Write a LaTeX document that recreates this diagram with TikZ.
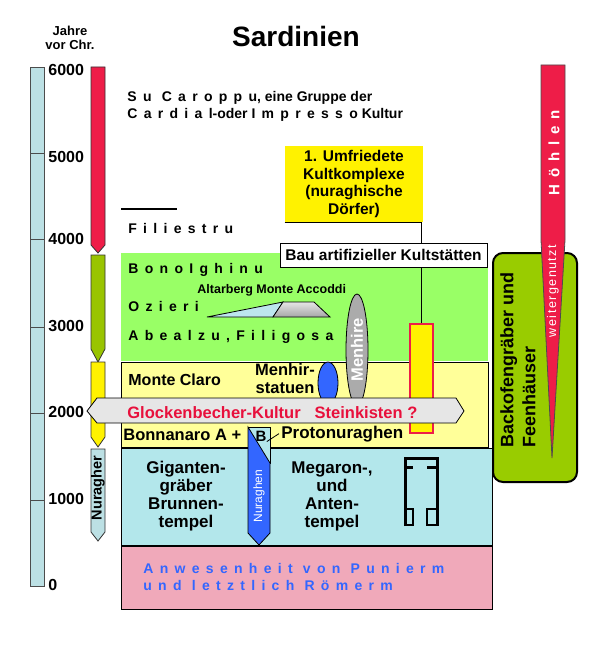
\documentclass[tikz,border=0pt]{standalone}
\usepackage{fontspec}
\setmainfont{Liberation Sans}
\newfontface\spacedfont[LetterSpace=45]{Liberation Sans Bold}
\newfontface\widefont[LetterSpace=12]{Liberation Sans}
\definecolor{hoehlered}{HTML}{EE1D48}
\definecolor{ozierigreen}{HTML}{99C400}
\definecolor{scaleblue}{HTML}{BCE0E4}
\definecolor{greenbox}{HTML}{99FF66}
\definecolor{paleyellow}{HTML}{FFFF99}
\definecolor{palecyan}{HTML}{B3E7EB}
\definecolor{palepink}{HTML}{F0A9BA}
\definecolor{backofengreen}{HTML}{99CC00}
\definecolor{nuraghenblue}{HTML}{3366FF}
\definecolor{menhirgray}{HTML}{ABABAB}
\definecolor{bannergray}{HTML}{E6E6E6}
\definecolor{rampblue}{HTML}{BDE6EE}
\definecolor{glockenred}{HTML}{E8103C}
\begin{document}
\begin{tikzpicture}
[x=1pt,y=-1pt,line width=0.8pt,
  lbl/.style 2 args={inner sep=0pt,font=\fontsize{#1}{#2}\selectfont\bfseries},%
  spaced/.style={inner sep=0pt,font=\fontsize{#1}{#1}\selectfont\spacedfont},
  spaced/.default=14,
  colarrow/.style={draw=black!80},
  plan/.style={line width=3pt}]
\useasboundingbox (0,0) rectangle (600,650);
%% year scale
\foreach \top/\bot in {67/153,153/239,239/327,327/413,413/500,500/586} {
  \draw[draw=black!70,fill=scaleblue] (30,\top) rectangle (44,\bot);
}
\foreach \yr/\yy in {6000/70,5000/157,4000/239,3000/326,2000/412,1000/499,0/585} {
  \node (y\yr) at (48,\yy) [lbl={16}{16},anchor=west] {\yr};
}
%% period columns
\foreach \top/\bot/\tip/\col in {67/253/8/hoehlered,255/362/13/ozierigreen,362/447/10/yellow,449/541/9/scaleblue} {
  \draw[colarrow,fill=\col] (91,\top) -- (105,\top) -- (105,\bot-\tip) -- (98,\bot) -- (91,\bot-\tip) -- cycle;
}
\node (nuragher) at (98,488) [lbl={14.5}{14.5},rotate=90] {Nuragher};
%% headings
\node (title) at (296,36) [lbl={28}{28}] {Sardinien};
\node (jahre) at (70,38) [lbl={13}{14.5},align=center] {Jahre\\vor Chr.};
\node (caroppu) at (127,102) [lbl={14}{14},anchor=base west] {{\spacedfont Su Caroppu}, eine Gruppe der};
\node (cardial) at (127,118) [lbl={14}{14},anchor=base west] {{\spacedfont Cardial}-oder {\spacedfont Impresso} Kultur};
\draw[line width=2pt] (121,209) -- (177,209);
\node (filiestru) at (128,233) [spaced,anchor=base west] {Filiestru};
%% period areas
\foreach \top/\bot/\right/\col/\edge in {253/360/487/greenbox/greenbox,362/447/488/paleyellow/black,448/545/492/palecyan/black,546/609/492/palepink/black} {
  \draw[draw=\edge,fill=\col] (121,\top) rectangle (\right,\bot);
}
%% cult sites
\node (umfr) at (354,184) [fill=yellow,minimum width=138pt,minimum height=76pt,align=center,lbl={15.5}{17.5}] {1. Umfriedete\\Kultkomplexe\\(nuraghische\\Dörfer)};
\node (bau) at (383.5,255) [draw,fill=white,minimum width=207pt,minimum height=24pt,lbl={15.5}{15.5}] {Bau artifizieller Kultstätten};
\node (kultbar) at (421.5,378.5) [draw=hoehlered,fill=yellow,line width=2pt,minimum width=23pt,minimum height=109pt] {};
\draw (umfr.south west) -- (umfr.south -| kultbar) -- (bau.north -| kultbar);
\draw (bau.south -| kultbar) -- (kultbar.north);
%% Ozieri area
\node (bono) at (128,273) [spaced,anchor=base west] {BonoIghinu};
\node (ozieri) at (128,311) [spaced,anchor=base west] {Ozieri};
\node (abealzu) at (128,340) [spaced,anchor=base west] {Abealzu,Filigosa};
\node (altar) at (197,293) [lbl={12.5}{12.5},anchor=base west] {Altarberg Monte Accoddi};
\draw[fill=rampblue] (207,317) -- (283,302) -- (273,317) -- cycle;
\draw[top color=gray!20,bottom color=gray!70] (273,317) -- (283,302) -- (314,302) -- (330,317) -- cycle;
%% menhirs
\draw[fill=menhirgray] (357,350) ellipse [x radius=11,y radius=56];
\node (menhire) at (357,350) [lbl={16.5}{16.5},rotate=90,text=white] {Menhire};
\draw[fill=nuraghenblue] (328,383) ellipse [x radius=10,y radius=21];
\node (claro) at (128,385) [lbl={16}{16},anchor=base west] {Monte Claro};
\node (menhir) at (285,379) [lbl={16.5}{18},align=center] {Menhir-\\statuen};
%% bell beaker banner
\draw[fill=bannergray] (87,411) -- (97,398) -- (456,398) -- (464,411) -- (456,423) -- (97,423) -- cycle;
\node (glocken) at (127,418) [lbl={16.5}{16.5},text=glockenred,anchor=base west] {Glockenbecher-Kultur\hspace{14pt}Steinkisten ?};
%% nuraghi
\node (bonnanaro) at (123,440) [lbl={16.5}{16.5},anchor=base west] {Bonnanaro A +};
\draw[fill=palecyan] (248,427) rectangle (270,463);
\draw[fill=nuraghenblue] (248,427) -- (270,463) -- (270,533) -- (259,545) -- (248,533) -- cycle;
\node (bee) at (261,436) [lbl={15}{15}] {B};
\node (proto) at (281,438) [lbl={17}{17},anchor=base west] {Protonuraghen};
\draw (bee.south east) -- ([xshift=-2pt]proto.west);
\node (nuraghen) at (259,496) [font=\fontsize{12}{12}\selectfont,rotate=90,text=white,inner sep=0pt] {Nuraghen};
\node (giganten) at (186,496) [lbl={17}{18},align=center] {Giganten-\\gräber\\Brunnen-\\tempel};
\node (megaron) at (332,496) [lbl={17}{18},align=center] {Megaron-,\\und\\Anten-\\tempel};
%% temple plan
\draw[plan] (405,526) -- (405,458) -- (437,458) -- (437,526);
\draw[plan] (405,467) -- (413,467) (427,467) -- (437,467);
\draw[line width=2pt] (405,509) rectangle (413,525) (427,509) rectangle (437,525);
%% Punic and Roman times
\node (punier) at (143,573) [spaced,text=nuraghenblue,anchor=base west] {Anwesenheit von Punierm};
\node (roemer) at (143,590) [spaced,text=nuraghenblue,anchor=base west] {und letztlich Römerm};
%% caves and rock tombs
\draw[line width=2pt,fill=backofengreen,rounded corners=10pt] (493,253) rectangle (577,482);
\node (backofen) at (500,448) [lbl={18}{22},rotate=90,align=left,anchor=north west] {Backofengräber und\\Feenhäuser};
\draw[draw=black!70,fill=hoehlered] (541,65) -- (565,65) -- (565,240) -- (552,458) -- (541,240) -- cycle;
\node (hoehlen) at (554,153) [spaced=15,rotate=90,text=white] {Höhlen};
\node (weiter) at (553,291) [font=\fontsize{12.5}{12.5}\selectfont\widefont,rotate=90,text=white,inner sep=0pt] {weitergenutzt};
\end{tikzpicture}
\end{document}
